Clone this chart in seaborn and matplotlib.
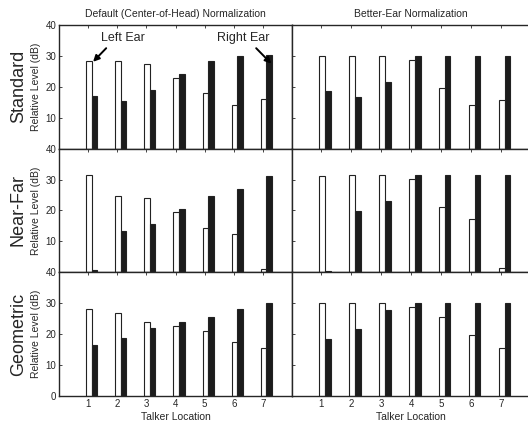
import pandas as pd
import seaborn as sns
import matplotlib.pyplot as plt

# Talker locations and panel labels
locations = [1, 2, 3, 4, 5, 6, 7]
rows = ["Standard", "Near-Far", "Geometric"]
cols = ["Default (Center-of-Head) Normalization", "Better-Ear Normalization"]

# Relative levels (dB)
std_default_left = [28.5, 28.5, 27.5, 23.0, 18.0, 14.2, 16.0]
std_default_right = [17.0, 15.3, 19.0, 24.0, 28.5, 30.1, 30.3]
std_better_left = [30.0, 30.0, 30.0, 28.8, 19.5, 14.2, 15.7]
std_better_right = [18.5, 16.7, 21.7, 30.0, 30.0, 30.0, 30.0]

nf_default_left = [31.6, 24.8, 23.9, 19.4, 14.4, 12.3, 1.0]
nf_default_right = [0.6, 13.3, 15.5, 20.4, 24.8, 26.8, 31.0]
nf_better_left = [31.3, 31.6, 31.6, 30.3, 21.0, 17.1, 1.4]
nf_better_right = [0.4, 19.8, 23.1, 31.4, 31.6, 31.6, 31.4]

geo_default_left = [28.2, 27.0, 24.0, 22.6, 20.9, 17.6, 15.6]
geo_default_right = [16.6, 18.7, 22.0, 23.8, 25.4, 28.1, 30.0]
geo_better_left = [30.0, 30.0, 30.0, 28.8, 25.4, 19.8, 15.6]
geo_better_right = [18.3, 21.6, 27.7, 30.0, 30.0, 30.0, 30.0]

data = {
    ("Standard", 0): (std_default_left, std_default_right),
    ("Standard", 1): (std_better_left, std_better_right),
    ("Near-Far", 0): (nf_default_left, nf_default_right),
    ("Near-Far", 1): (nf_better_left, nf_better_right),
    ("Geometric", 0): (geo_default_left, geo_default_right),
    ("Geometric", 1): (geo_better_left, geo_better_right),
}

sns.set_style("ticks")
plt.rcParams["font.family"] = ["Liberation Sans", "DejaVu Sans"]

fig = plt.figure(figsize=(5.28, 4.25), dpi=100)

W, H = 528.0, 425.0
col_x = [(59, 233), (291.5, 239.5)]
row_y = [(25, 148.7), (148.6, 272.3), (272.3, 396)]

arrow = dict(arrowstyle="-|>", color="black", lw=1.4, mutation_scale=9,
             shrinkA=0, shrinkB=0)

for r, row in enumerate(rows):
    for c in range(2):
        x0, w = col_x[c]
        ytop, ybot = row_y[r]
        ax = fig.add_axes([x0 / W, 1 - ybot / H, w / W, (ybot - ytop) / H])

        left, right = data[(row, c)]
        df = pd.DataFrame({
            "loc": locations * 2,
            "level": left + right,
            "ear": ["Left Ear"] * 7 + ["Right Ear"] * 7,
        })
        sns.barplot(
            data=df, x="loc", y="level", hue="ear", native_scale=True,
            palette={"Left Ear": "white", "Right Ear": "#1c1c1c"},
            edgecolor="#222222", linewidth=0.8, width=0.38,
            errorbar=None, legend=False, ax=ax,
        )
        # bars in the original sit slightly right of the tick
        for p in ax.patches:
            p.set_x(p.get_x() + 0.12)

        ax.set_xlim(0, 8)
        ax.set_ylim(0, 40)
        ax.set_xticks(locations)
        ax.set_yticks([0, 10, 20, 30, 40])
        ax.tick_params(direction="in", length=2.5, width=0.6, labelsize=7,
                       top=True, pad=2)
        for s in ax.spines.values():
            s.set_linewidth(1.0)

        if r < 2:
            ax.set_xticklabels([])
        else:
            ax.set_xticklabels([str(v) for v in locations])
        ax.set_xlabel("Talker Location" if r == 2 else "", fontsize=7.5, labelpad=2)

        if c == 0:
            if r < 2:
                ax.set_yticklabels(["", "10", "20", "30", "40"])
            else:
                ax.set_yticklabels(["0", "10", "20", "30", "40"])
            ax.set_ylabel("Relative Level (dB)", fontsize=7.5, labelpad=3)
            ax.text(-0.175, 0.5, row, transform=ax.transAxes, rotation=90,
                    ha="center", va="center", fontsize=13)
        else:
            ax.set_yticklabels([])
            ax.set_ylabel("")

        if r == 0:
            ax.set_title(cols[c], fontsize=7.5, pad=6)
            if c == 0:
                ax.annotate("", xy=(1.17, 28.1), xytext=(1.62, 32.5),
                            arrowprops=arrow)
                ax.text(2.18, 35.8, "Left Ear", ha="center", va="center", fontsize=9)
                ax.annotate("", xy=(7.29, 27.5), xytext=(6.77, 32.5),
                            arrowprops=arrow)
                ax.text(6.31, 35.9, "Right Ear", ha="center", va="center", fontsize=9)

fig.savefig("out.png", dpi=100)
